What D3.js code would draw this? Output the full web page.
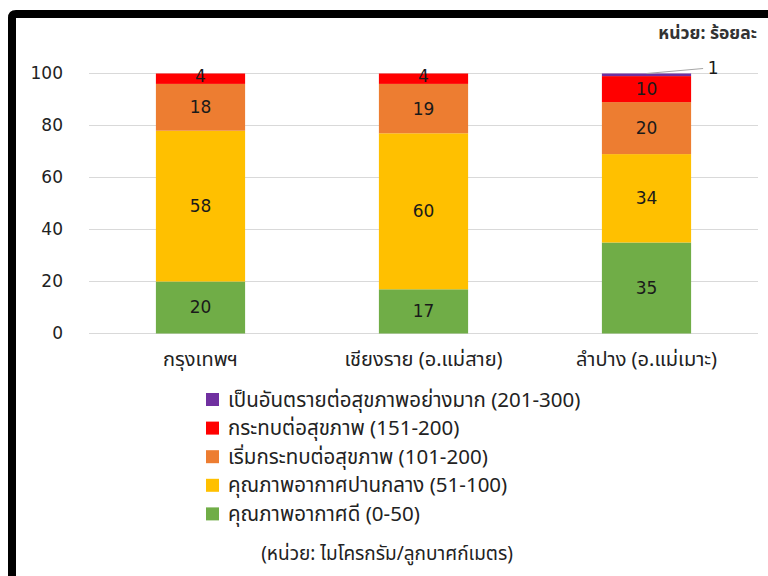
<!DOCTYPE html>
<html><head><meta charset="utf-8">
<script src="https://cdn.jsdelivr.net/npm/d3@7/dist/d3.min.js"></script>
<style>
html,body{margin:0;padding:0;background:#fff;}
svg{display:block;}
</style></head>
<body><svg id="c" width="768" height="576"></svg>
<script>
const categories = ["กรุงเทพฯ", "เชียงราย (อ.แม่สาย)", "ลำปาง (อ.แม่เมาะ)"];
const seriesNames = [
  "คุณภาพอากาศดี (0-50)",
  "คุณภาพอากาศปานกลาง (51-100)",
  "เริ่มกระทบต่อสุขภาพ (101-200)",
  "กระทบต่อสุขภาพ (151-200)",
  "เป็นอันตรายต่อสุขภาพอย่างมาก (201-300)"
];
const good      = [20, 17, 35];
const moderate  = [58, 60, 34];
const starting  = [18, 19, 20];
const affecting = [4, 4, 10];
const dangerous = [0, 0, 1];
const colors = ["#70AD47", "#FFC000", "#ED7D31", "#FF0000", "#7030A0"];
const yTicks = [0, 20, 40, 60, 80, 100];
const unitTop = "หน่วย: ร้อยละ";
const unitBottom = "(หน่วย: ไมโครกรัม/ลูกบาศก์เมตร)";

const seriesValues = [good, moderate, starting, affecting, dangerous];
const table = categories.map((c, i) => {
  const row = {cat: c};
  seriesNames.forEach((s, j) => row[s] = seriesValues[j][i]);
  return row;
});

const svg = d3.select("#c");
const numFont = "'DejaVu Sans', sans-serif";
const thaiFont = "Tahoma, 'Noto Sans Thai', 'Noto Sans', 'Loma', sans-serif";

// frame
svg.append("path").attr("d", "M12,576 L12,18 Q12,14 16,14 L768,14")
  .attr("fill", "none").attr("stroke", "#000").attr("stroke-width", 8);

const x = d3.scaleBand().domain(categories).range([89, 758]).paddingInner(0.6).paddingOuter(0.3);
const y = d3.scaleLinear().domain([0, 100]).range([333.5, 73.5]);

// gridlines
svg.append("g").selectAll("line").data(yTicks).join("line")
  .attr("x1", 89).attr("x2", 758)
  .attr("y1", d => y(d)).attr("y2", d => y(d))
  .attr("stroke", "#d9d9d9").attr("stroke-width", 1);

// y axis labels
const yAxis = d3.axisLeft(y).tickValues(yTicks).tickSize(0).tickPadding(0);
const ya = svg.append("g").attr("transform", "translate(63,0)").call(yAxis);
ya.select(".domain").remove();
ya.selectAll("text").attr("font-family", numFont).attr("font-size", 17).attr("fill", "#222");

// x axis labels
const xAxis = d3.axisBottom(x).tickSize(0).tickPadding(0);
const xa = svg.append("g").attr("transform", "translate(0,352)").call(xAxis);
xa.select(".domain").remove();
xa.selectAll("text").attr("font-family", thaiFont).attr("font-size", 20).attr("fill", "#222");

const stack = d3.stack().keys(seriesNames);
const stacked = stack(table);

const g = svg.append("g");
stacked.forEach((layer, j) => {
  g.append("g").attr("fill", colors[j]).selectAll("rect").data(layer).join("rect")
    .attr("x", d => x(d.data.cat))
    .attr("width", x.bandwidth())
    .attr("y", d => y(d[1]))
    .attr("height", d => y(d[0]) - y(d[1]));
});

// labels
const lbl = svg.append("g").attr("font-family", numFont).attr("font-size", 17).attr("fill", "#1a1a1a").attr("text-anchor", "middle");
stacked.forEach((layer, j) => {
  layer.forEach(d => {
    const v = d[1] - d[0];
    if (v <= 0) return;
    const cx = x(d.data.cat) + x.bandwidth() / 2;
    if (v < 2) {
      const x0 = cx, y0 = y(d[1]);
      const x1 = x(d.data.cat) + x.bandwidth() + 12, y1 = y(d[1]) - 5;
      svg.append("line").attr("x1", x0).attr("y1", y0).attr("x2", x1).attr("y2", y1)
        .attr("stroke", "#a6a6a6").attr("stroke-width", 1);
      lbl.append("text").attr("x", x1 + 10).attr("y", y1).attr("dy", "0.35em").text(v);
    } else {
      const cy = (y(d[0]) + y(d[1])) / 2;
      lbl.append("text").attr("x", cx).attr("y", cy).attr("dy", v < 6 ? "0.2em" : "0.35em").text(v);
    }
  });
});

// unit top
svg.append("text").attr("x", 757).attr("y", 33).attr("dy", "0.35em").attr("text-anchor", "end")
  .attr("font-family", thaiFont).attr("font-size", 17.5).attr("font-weight", "bold").attr("fill", "#333").text(unitTop);

// legend (reverse order)
const legendOrder = d3.range(seriesNames.length).reverse();
const lg = svg.append("g");
legendOrder.forEach((j, i) => {
  const cy = 399.5 + i * 28.6;
  lg.append("rect").attr("x", 206).attr("y", cy - 6.5).attr("width", 13).attr("height", 13).attr("fill", colors[j]);
  lg.append("text").attr("x", 228).attr("y", cy).attr("dy", "0.35em")
    .attr("font-family", thaiFont).attr("font-size", 20.5).attr("fill", "#222").text(seriesNames[j]);
});

svg.append("text").attr("x", 387).attr("y", 553).attr("dy", "0.35em").attr("text-anchor", "middle")
  .attr("font-family", thaiFont).attr("font-size", 19).attr("fill", "#222").text(unitBottom);
</script></body></html>
